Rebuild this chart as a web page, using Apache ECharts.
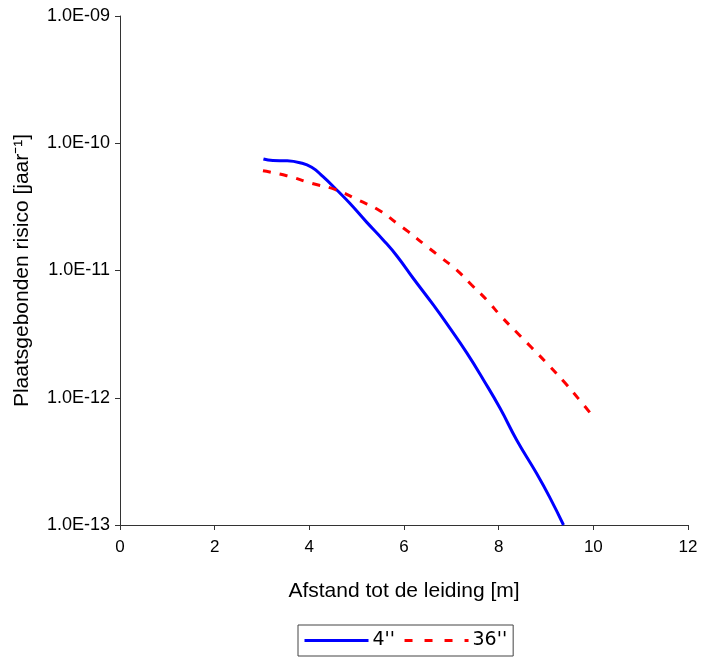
<!DOCTYPE html>
<html>
<head>
<meta charset="utf-8">
<script src="https://cdn.jsdelivr.net/npm/echarts@6/dist/echarts.min.js"></script>
<style>html,body{margin:0;padding:0;background:#fff}#c{width:702px;height:659px}</style>
</head>
<body>
<div id="c"></div>
<script>
const seriesNames = ["4''", "36''"];
const x4 = [3.03, 3.23, 3.52, 3.80, 4.05, 4.29, 4.58, 4.86, 5.21, 5.56, 5.85, 6.19, 6.62, 6.97, 7.33, 7.68, 8.03, 8.38, 8.80, 9.09, 9.37];
const y4 = [7.52e-11, 7.32e-11, 7.28e-11, 7.03e-11, 6.47e-11, 5.46e-11, 4.29e-11, 3.36e-11, 2.40e-11, 1.74e-11, 1.30e-11, 8.73e-12, 5.36e-12, 3.52e-12, 2.24e-12, 1.38e-12, 8.26e-13, 4.66e-13, 2.55e-13, 1.62e-13, 1.0e-13];
const x36 = [3.02, 3.52, 4.05, 4.54, 5.03, 5.49, 5.85, 6.09, 6.44, 6.80, 7.11, 7.43, 7.75, 8.06, 8.38, 8.70, 9.09, 9.40, 9.68, 9.97];
const y36 = [6.08e-11, 5.56e-11, 4.84e-11, 4.34e-11, 3.58e-11, 2.95e-11, 2.35e-11, 2.02e-11, 1.59e-11, 1.25e-11, 1.01e-11, 7.69e-12, 5.86e-12, 4.33e-12, 3.27e-12, 2.47e-12, 1.75e-12, 1.31e-12, 9.89e-13, 7.31e-13];
const xTicks = [0, 2, 4, 6, 8, 10, 12];
const yTickLabels = ["1.0E-13", "1.0E-12", "1.0E-11", "1.0E-10", "1.0E-09"];
const yExponents = [-13, -12, -11, -10, -9];

const chart = echarts.init(document.getElementById('c'), null, {renderer: 'canvas'});
const axisFont = 'Liberation Sans, Arial, sans-serif';
chart.setOption({
  animation: false,
  backgroundColor: '#fff',
  grid: {left: 120, right: 14, top: 16, bottom: 134, containLabel: false},
  xAxis: {
    type: 'value', min: xTicks[0], max: xTicks[xTicks.length - 1], interval: 2,
    name: 'Afstand tot de leiding [m]', nameLocation: 'middle', nameGap: 56,
    nameTextStyle: {fontFamily: axisFont, fontSize: 21, color: '#000'},
    axisLine: {lineStyle: {color: '#333', width: 1}},
    axisTick: {show: true, length: 5, lineStyle: {color: '#333'}},
    axisLabel: {fontFamily: axisFont, fontSize: 17, color: '#000', margin: 14},
    splitLine: {show: false}
  },
  yAxis: {
    type: 'log', logBase: 10, min: Math.pow(10, yExponents[0]), max: Math.pow(10, yExponents[yExponents.length - 1]),
    name: 'Plaatsgebonden risico [jaar\u207B\u00B9]', nameLocation: 'middle', nameGap: 87, nameRotate: 90,
    nameTextStyle: {fontFamily: axisFont, fontSize: 21, color: '#000'},
    axisLine: {show: true, lineStyle: {color: '#333', width: 1}},
    axisTick: {show: true, length: 5, lineStyle: {color: '#333'}},
    axisLabel: {
      fontFamily: axisFont, fontSize: 18, color: '#000', margin: 10,
      formatter: function (v) {
        const e = Math.round(Math.log10(v));
        const i = yExponents.indexOf(e);
        return i >= 0 ? yTickLabels[i] : '';
      }
    },
    splitLine: {show: false}
  },
  legend: {
    left: 298, top: 625, width: 214,
    itemWidth: 64, itemHeight: 14, itemGap: 8,
    padding: [6, 6, 6, 5],
    borderColor: '#444', borderWidth: 1,
    itemStyle: {opacity: 0},
    textStyle: {fontFamily: 'DejaVu Sans', fontSize: 19, color: '#000', padding: [0, 0, 0, -1]},
    data: [
      {name: seriesNames[0], lineStyle: {width: 3}},
      {name: seriesNames[1], lineStyle: {width: 3, type: [8, 12]}}
    ]
  },
  series: [
    {
      name: seriesNames[0], type: 'line', smooth: 0.5, symbol: 'none', showSymbol: false,
      data: x4.map((x, i) => [x, y4[i]]),
      lineStyle: {color: '#0000ff', width: 3}, itemStyle: {color: '#0000ff'}, clip: true
    },
    {
      name: seriesNames[1], type: 'line', smooth: 0.5, symbol: 'none', showSymbol: false,
      data: x36.map((x, i) => [x, y36[i]]),
      lineStyle: {color: '#ff0000', width: 3, type: [8, 9]}, itemStyle: {color: '#ff0000'}, clip: true
    }
  ]
});
</script>
</body>
</html>
